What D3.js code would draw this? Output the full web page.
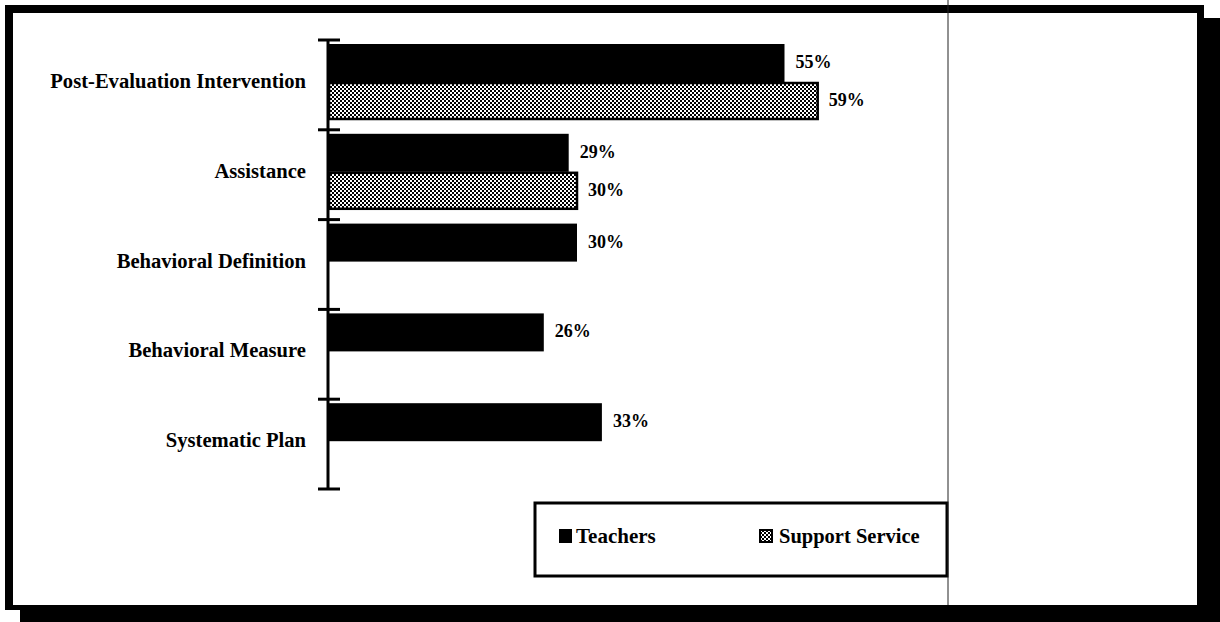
<!DOCTYPE html>
<html>
<head>
<meta charset="utf-8">
<script src="https://cdn.jsdelivr.net/npm/d3@7"></script>
<style>
  html, body { margin: 0; padding: 0; background: #fff; }
  svg { display: block; }
  text { font-family: "Liberation Serif", "Times New Roman", serif; font-weight: bold; fill: #000; }
</style>
</head>
<body>
<script>
// ---- Data ----
const categories = ["Post-Evaluation Intervention", "Assistance", "Behavioral Definition", "Behavioral Measure", "Systematic Plan"];
const teachers = [55, 29, 30, 26, 33];
const supportService = [59, 30, null, null, null];
const seriesNames = ["Teachers", "Support Service"];

const W = 1220, H = 622;
const svg = d3.select("body").append("svg").attr("width", W).attr("height", H);

// pattern for Support Service
const defs = svg.append("defs");
const pat = defs.append("pattern").attr("id", "dots").attr("patternUnits", "userSpaceOnUse")
  .attr("width", 4).attr("height", 4);
pat.append("rect").attr("width", 4).attr("height", 4).attr("fill", "#fff");
pat.append("rect").attr("x", 0).attr("y", 0).attr("width", 2).attr("height", 2).attr("fill", "#000");
pat.append("rect").attr("x", 2).attr("y", 2).attr("width", 2).attr("height", 2).attr("fill", "#000");

// ---- Frame with shadow ----
svg.append("rect").attr("x", 20).attr("y", 18).attr("width", W - 20).attr("height", H - 18).attr("fill", "#000");
svg.append("rect").attr("x", 5).attr("y", 5).attr("width", 1199).attr("height", 605).attr("fill", "#000");
svg.append("rect").attr("x", 13).attr("y", 13).attr("width", 1184).attr("height", 592).attr("fill", "#fff");

// ---- Scales ----
const x = d3.scaleLinear().domain([0, 100]).range([328, 1158]);
const y = d3.scaleBand().domain(categories).range([40, 489]).paddingInner(0);
const ySub = d3.scaleBand().domain(seriesNames).range([4, 80]);

const rows = categories.map((c, i) => ({ cat: c, vals: [teachers[i], supportService[i]] }));

// ---- Bars ----
const g = svg.append("g");
rows.forEach(r => {
  r.vals.forEach((v, si) => {
    if (v == null) return;
    const name = seriesNames[si];
    const top = y(r.cat) + ySub(name);
    const h = ySub.bandwidth();
    if (si === 0) {
      g.append("rect").attr("x", x(0)).attr("y", top).attr("width", x(v) - x(0)).attr("height", h).attr("fill", "#000");
    } else {
      g.append("rect").attr("x", x(0) + 1).attr("y", top + 1).attr("width", x(v) - x(0) - 1).attr("height", h - 2)
        .attr("fill", "url(#dots)").attr("stroke", "#000").attr("stroke-width", 2.5);
    }
    g.append("text").attr("x", x(v) + 11).attr("y", top + h / 2 + 5)
      .attr("font-size", 18).text(v + "%");
  });
});

// ---- Axis ----
const ax = svg.append("g");
ax.append("line").attr("x1", x(0)).attr("x2", x(0)).attr("y1", y.range()[0]).attr("y2", y.range()[1])
  .attr("stroke", "#000").attr("stroke-width", 3);
const tickPos = categories.map(c => y(c)).concat([y.range()[1]]);
ax.selectAll("line.tick").data(tickPos).enter().append("line")
  .attr("x1", x(0) - 10).attr("x2", x(0) + 12).attr("y1", d => d).attr("y2", d => d)
  .attr("stroke", "#000").attr("stroke-width", 3);

// category labels
svg.append("g").selectAll("text").data(categories).enter().append("text")
  .attr("x", 306).attr("y", d => y(d) + y.bandwidth() / 2 + 3)
  .attr("text-anchor", "end").attr("font-size", 20.6).text(d => d);

// ---- Legend ----
const lg = svg.append("g");
lg.append("rect").attr("x", 535).attr("y", 503).attr("width", 412).attr("height", 73)
  .attr("fill", "#fff").attr("stroke", "#000").attr("stroke-width", 3);
lg.append("rect").attr("x", 559).attr("y", 529).attr("width", 13).attr("height", 14).attr("fill", "#000");
lg.append("text").attr("x", 576).attr("y", 543).attr("font-size", 21).text(seriesNames[0]);
lg.append("rect").attr("x", 760).attr("y", 530).attr("width", 12).attr("height", 12)
  .attr("fill", "url(#dots)").attr("stroke", "#000").attr("stroke-width", 2);
lg.append("text").attr("x", 779).attr("y", 543).attr("font-size", 20.5).text(seriesNames[1]);

// scan fold line
svg.append("line").attr("x1", 948).attr("x2", 948).attr("y1", 0).attr("y2", 605)
  .attr("stroke", "#222").attr("stroke-width", 1);
</script>
</body>
</html>
